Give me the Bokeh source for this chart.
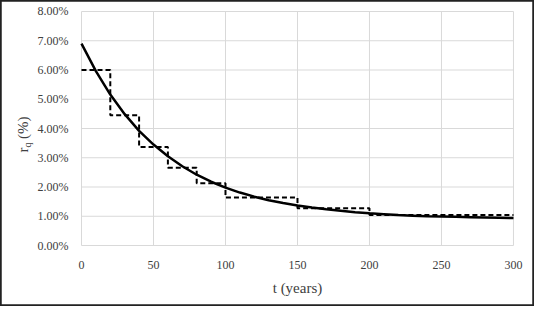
from bokeh.plotting import figure
from bokeh.embed import file_html
from bokeh.resources import INLINE
from bokeh.models import FixedTicker, Label, Range1d
import math

# Smooth curve r_q (%) vs t (years)
t_curve = [0, 10, 20, 30, 40, 50, 60, 70, 80, 90, 100, 110, 120, 130, 140, 150,
           160, 170, 180, 190, 200, 210, 220, 230, 240, 250, 260, 270, 280, 290, 300]
r_curve = [6.90, 5.96, 5.16, 4.49, 3.92, 3.45, 3.05, 2.71, 2.42, 2.18, 1.98, 1.81, 1.67,
           1.55, 1.45, 1.37, 1.30, 1.24, 1.19, 1.14, 1.10, 1.07, 1.04, 1.02, 1.00, 0.99,
           0.98, 0.97, 0.96, 0.95, 0.94]

# Step (dashed) series: interval edges and levels (%)
step_edges = [0, 20, 40, 60, 80, 100, 150, 200, 300]
step_levels = [6.00, 4.45, 3.37, 2.66, 2.13, 1.64, 1.27, 1.04]

x_ticks = [0, 50, 100, 150, 200, 250, 300]
y_ticks = [0, 1, 2, 3, 4, 5, 6, 7, 8]
y_tick_labels = ["0.00%", "1.00%", "2.00%", "3.00%", "4.00%", "5.00%", "6.00%", "7.00%", "8.00%"]

FONT = "Liberation Serif"
GRID = "#d9d9d9"
TXT = "#404040"

X0, X1 = 0, 300
Y0, Y1 = 0, 8

# frame covers the whole canvas; the chart area sits inside it
p = figure(width=534, height=306, output_backend="svg", toolbar_location=None,
           x_range=Range1d(-56.25, 314.6), y_range=Range1d(-2.085, 8.376),
           min_border=0)
p.background_fill_color = "white"
p.border_fill_color = "white"
p.outline_line_color = "#222222"
p.outline_line_width = 2.5
p.grid.visible = False

# grid lines drawn from the tick lists
p.segment(x0=x_ticks, y0=[Y0] * len(x_ticks), x1=x_ticks, y1=[Y1] * len(x_ticks),
          line_color=GRID, line_width=1)
p.segment(x0=[X0] * len(y_ticks), y0=y_ticks, x1=[X1] * len(y_ticks), y1=y_ticks,
          line_color=GRID, line_width=1)

# axes fixed at the data origin
for ax in (p.xaxis[0], p.yaxis[0]):
    ax.fixed_location = 0
    ax.axis_line_color = None
    ax.major_tick_line_color = None
    ax.minor_tick_line_color = None
    ax.major_tick_in = 0
    ax.major_tick_out = 0
    ax.major_label_text_font = FONT
    ax.major_label_text_font_size = "12px"
    ax.major_label_text_color = TXT
p.xaxis.ticker = FixedTicker(ticks=x_ticks)
p.yaxis.ticker = FixedTicker(ticks=y_ticks)
p.yaxis.major_label_overrides = {v: s for v, s in zip(y_ticks, y_tick_labels)}
p.xaxis.major_label_standoff = 15
p.yaxis.major_label_standoff = 13

# step series
sx, sy = [], []
for i, lvl in enumerate(step_levels):
    sx += [step_edges[i], step_edges[i + 1]]
    sy += [lvl, lvl]
p.line(sx, sy, line_color="black", line_width=2, line_dash="5 3")

# curve
p.line(t_curve, r_curve, line_color="black", line_width=2.5)

# axis titles
def L(x, y, text, size, angle=0.0, align="left"):
    p.add_layout(Label(x=x, y=y, text=text, text_font=FONT, text_font_size=size,
                       text_color=TXT, angle=angle, text_align=align,
                       text_baseline="middle"))

L(150, -1.44, "t (years)", "15px", align="center")
L(-40.3, 3.18, "r", "15px", angle=math.pi / 2)
L(-37.3, 3.35, "q", "10px", angle=math.pi / 2)
L(-40.3, 3.64, "(%)", "15px", angle=math.pi / 2)

open("out.html", "w").write(file_html(p, INLINE))
